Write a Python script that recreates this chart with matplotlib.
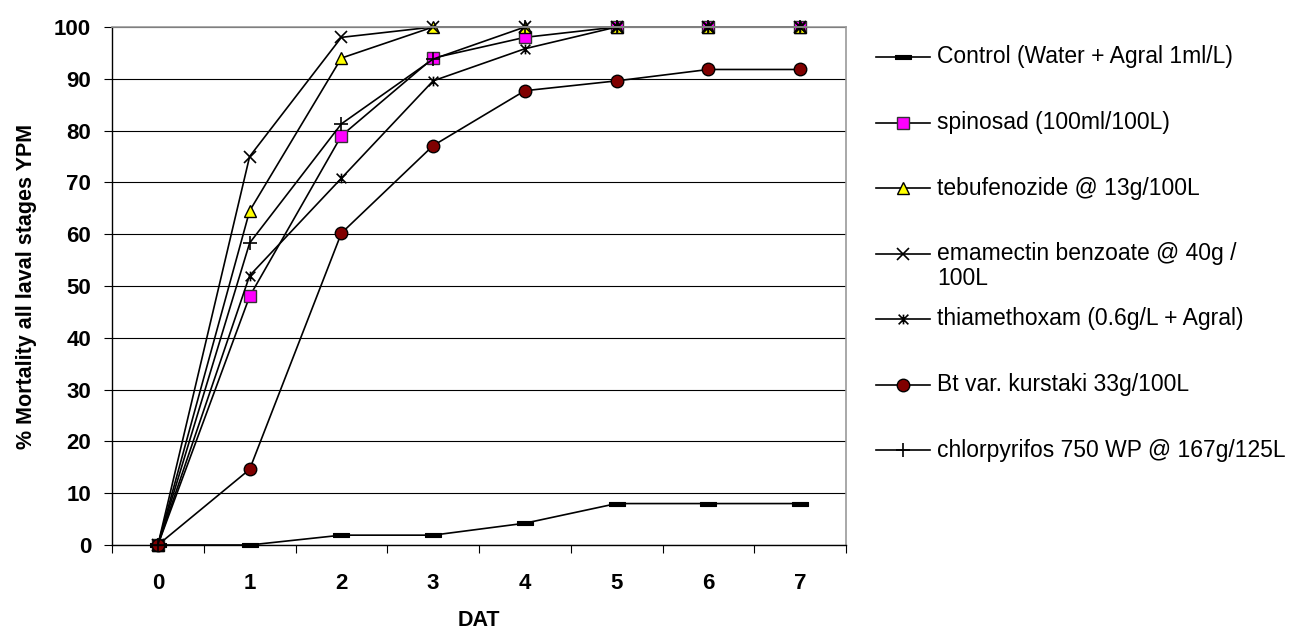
import matplotlib
matplotlib.use("Agg")
import matplotlib.pyplot as plt
import numpy as np
from matplotlib.path import Path

plt.rcParams["font.family"] = ["Liberation Sans", "DejaVu Sans"]

# Days after treatment
dat = [0, 1, 2, 3, 4, 5, 6, 7]

# % mortality per treatment
control = [0, 0, 1.9, 1.9, 4.2, 8, 8, 8]
spinosad = [0, 48, 79, 94, 98, 100, 100, 100]
tebufenozide = [0, 64.5, 94, 100, 100, 100, 100, 100]
emamectin = [0, 75, 98, 100, 100, 100, 100, 100]
thiamethoxam = [0, 52, 70.8, 89.6, 95.8, 100, 100, 100]
bt_kurstaki = [0, 14.6, 60.2, 77.1, 87.7, 89.6, 91.8, 91.8]
chlorpyrifos = [0, 58.3, 81.3, 93.8, 100, 100, 100, 100]

labels = [
    "Control (Water + Agral 1ml/L)",
    "spinosad (100ml/100L)",
    "tebufenozide @ 13g/100L",
    "emamectin benzoate @ 40g /\n100L",
    "thiamethoxam (0.6g/L + Agral)",
    "Bt var. kurstaki 33g/100L",
    "chlorpyrifos 750 WP @ 167g/125L",
]
series = [control, spinosad, tebufenozide, emamectin, thiamethoxam, bt_kurstaki, chlorpyrifos]

# Excel style markers
bar_marker = Path([(-1.5, -0.45), (1.5, -0.45), (1.5, 0.45), (-1.5, 0.45), (-1.5, -0.45)],
                  [Path.MOVETO, Path.LINETO, Path.LINETO, Path.LINETO, Path.CLOSEPOLY])
star_marker = Path([(-1, -1), (1, 1), (-1, 1), (1, -1), (0, -1), (0, 1)],
                   [Path.MOVETO, Path.LINETO, Path.MOVETO, Path.LINETO, Path.MOVETO, Path.LINETO])

styles = [
    dict(marker=bar_marker, markersize=11, markerfacecolor="black", markeredgecolor="black", markeredgewidth=0.8),
    dict(marker="s", markersize=8.5, markerfacecolor="#ff00ff", markeredgecolor="#333333", markeredgewidth=1.0),
    dict(marker="^", markersize=9, markerfacecolor="#ffff00", markeredgecolor="black", markeredgewidth=1.0),
    dict(marker="x", markersize=9, markeredgecolor="black", markeredgewidth=1.2),
    dict(marker=star_marker, markersize=7, markeredgecolor="black", markeredgewidth=1.2),
    dict(marker="o", markersize=9, markerfacecolor="#800000", markeredgecolor="black", markeredgewidth=1.0),
    dict(marker="+", markersize=10, markeredgecolor="black", markeredgewidth=1.2),
]

fig = plt.figure(figsize=(13.1, 6.35), dpi=100)
ax = fig.add_axes([112 / 1310, 90 / 635, 734 / 1310, 518 / 635])

for vals, st in zip(series, styles):
    ax.plot(dat, vals, color="black", linewidth=1.2, clip_on=False, **st)

ax.set_xlim(-0.5, 7.5)
ax.set_ylim(0, 100)
ax.set_yticks(np.arange(0, 101, 10))
ax.set_xticks(dat)
ax.set_xticks(np.arange(-0.5, 8, 1), minor=True)
ax.yaxis.grid(True, color="black", linewidth=0.8)
ax.tick_params(axis="x", which="major", length=0, pad=20, labelsize=16)
ax.tick_params(axis="x", which="minor", length=6, width=0.8, direction="out")
ax.tick_params(axis="y", length=6, width=0.8, pad=9, labelsize=16)
for lab in ax.get_xticklabels() + ax.get_yticklabels():
    lab.set_fontweight("bold")

for side in ["top", "right"]:
    ax.spines[side].set_color("#999999")
    ax.spines[side].set_linewidth(1.2)
for side in ["left", "bottom"]:
    ax.spines[side].set_color("black")
    ax.spines[side].set_linewidth(1.0)

ax.set_xlabel("DAT", fontsize=15.5, fontweight="bold", labelpad=12)
ax.set_ylabel("% Mortality all laval stages YPM", fontsize=15.5, fontweight="bold", labelpad=12)

# Manual legend on the right, in pixel units
lax = fig.add_axes([0, 0, 1, 1], facecolor="none")
lax.set_xlim(0, 1310)
lax.set_ylim(635, 0)
lax.axis("off")
row_y = 57
for lab, st in zip(labels, styles):
    lax.plot([876, 930], [row_y, row_y], color="black", linewidth=1.2)
    lax.plot([903], [row_y], linestyle="none", **st)
    lax.text(937, row_y, lab.split("\n")[0], fontsize=16.5, va="center", ha="left")
    if "\n" in lab:
        lax.text(937, row_y + 25, lab.split("\n")[1], fontsize=16.5, va="center", ha="left")
    row_y += 65.5

fig.savefig("out.png", dpi=100)
